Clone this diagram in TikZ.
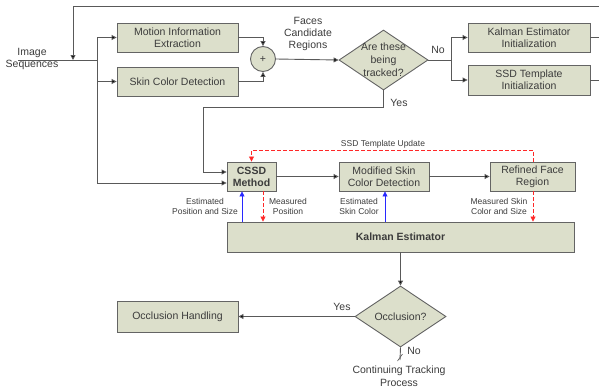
\documentclass[tikz,border=0pt]{standalone}
\usepackage{fontspec}
\setmainfont{Liberation Sans}
\usetikzlibrary{calc}
\usetikzlibrary{arrows.meta}
\usetikzlibrary{shapes.geometric}

\definecolor{boxfill}{RGB}{220,223,203}
\definecolor{boxline}{RGB}{100,100,100}
\definecolor{txtgray}{RGB}{60,60,60}
\definecolor{estblue}{RGB}{40,40,255}
\definecolor{measred}{RGB}{255,40,40}

\begin{document}
\begin{tikzpicture}[x=1pt,y=-1pt,
    font=\fontsize{10.5}{12}\selectfont, text=txtgray,
    block/.style={draw=boxline, fill=boxfill, line width=0.9pt, align=center,
        inner sep=0pt, minimum height=29pt},
    decision/.style={diamond, draw=boxline, fill=boxfill, line width=0.9pt,
        inner sep=0pt, align=center},
    small/.style={font=\fontsize{8.5}{9.5}\selectfont, align=center},
    flow/.style={draw=black!65, line width=0.9pt, -{Triangle[length=5pt,width=5pt,fill=black]}},
    est/.style={draw=estblue, line width=0.8pt, -{Triangle[length=5pt,width=5pt]}},
    meas/.style={draw=measred, line width=0.8pt, dashed, dash pattern=on 4pt off 2pt,
        -{Triangle[length=5pt,width=5pt]}}]

    % Fix the picture size
    \useasboundingbox (0,0) rectangle (599,388);

    % Input and the two detectors
    \node[align=center] (img) at (32,59) {Image\\Sequences};
    \coordinate (src) at (18,60);
    \coordinate (split) at (97,60);
    \coordinate (fb) at (73,60);
    \node[block, minimum width=121pt] (motion) at (177.5,37.5) {Motion Information\\Extraction};
    \node[block, minimum width=121pt] (skin) at (177.5,81.5) {Skin Color Detection};
    \node[circle, draw=boxline, fill=boxfill, line width=0.9pt, minimum size=25pt,
        inner sep=0pt] (plus) at (263,59) {+};
    \node[align=center] (faces) at (308,34) {Faces\\Candidate\\Regions};

    % Tracking decision and initialization
    \node[decision, minimum width=89pt, minimum height=60pt] (track) at (383.5,60) {};
    \node[align=center, font=\fontsize{10.5}{13}\selectfont] (tracktxt) at (track.center) {Are these\\being\\tracked?};
    \node (no1) at (438,50) {No};
    \coordinate (nosplit) at (451,60);
    \node[block, minimum width=122pt] (kinit) at (529,37.5) {Kalman Estimator\\Initialization};
    \node[block, minimum width=122pt, minimum height=30pt] (sinit) at (529,80) {SSD Template\\Initialization};
    \coordinate (kout) at (599,37.5);
    \coordinate (sout) at (599,80);
    \coordinate (topr) at (599,6);
    \coordinate (topl) at (73,6);

    % Tracking loop
    \node (yes1) at (399,103) {Yes};
    \node[block, minimum width=49pt, font=\fontsize{10.5}{12}\bfseries] (cssd) at (251.5,176.5) {CSSD\\Method};
    \node[block, minimum width=90pt] (modskin) at (384,176.5) {Modified Skin\\Color Detection};
    \node[block, minimum width=85pt] (refined) at (532.5,176.5) {Refined Face\\Region};
    \node[block, minimum width=347pt, minimum height=30pt, font=\fontsize{10.5}{12}\bfseries] (kalman) at (400.5,237) {Kalman Estimator};

    % Occlusion
    \node[decision, minimum width=91pt, minimum height=61pt] (occl) at (400.5,316.5) {Occlusion?};
    \node[block, minimum width=121pt, minimum height=31pt] (occh) at (177.5,316.5) {Occlusion Handling};
    \node (yes2) at (342,307) {Yes};
    \node (no2) at (414,351) {No};
    \coordinate (cont) at (400,360);
    \node[align=center, font=\fontsize{10.5}{13.5}\selectfont] (conttxt) at (399,376) {Continuing Tracking\\Process};

    % Draw the connectors
    \draw[black!65, line width=0.9pt] (src) -- (split);
    \draw[flow] (topr) -- (topl) -- (fb);
    \draw[flow] (split) |- (motion.west);
    \draw[flow] (split) |- (skin.west);
    \draw[flow] (split) |- (cssd.west |- 0,183);
    \draw[flow] (motion.east) -| (plus.north);
    \draw[flow] (skin.east) -| (plus.south);
    \draw[flow] (plus.east) -- (track.west);
    \draw[black!65, line width=0.9pt] (track.east) -- (nosplit);
    \draw[flow] (nosplit) |- (kinit.west);
    \draw[flow] (nosplit) |- (sinit.west);
    \draw[black!65, line width=0.9pt] (kinit.east) -- (kout);
    \draw[black!65, line width=0.9pt] (sinit.east) -- (sout);
    \draw[flow] (track.south) -- (383.5,107) -| (203,172) -- (cssd.west |- 0,172);
    \draw[flow] (cssd.east) -- (modskin.west);
    \draw[flow] (modskin.east) -- (refined.west);
    \draw[flow] (kalman.south -| occl.north) -- (occl.north);
    \draw[flow] (occl.west) -- (occh.east);
    \draw[black!65, line width=0.9pt] (occl.south) -- (cont);
    \draw[black!65, line width=0.6pt] ($(cont)+(-2.5,1)$) -- ($(cont)+(2.5,-6)$);

    % Estimates and measurements
    \draw[meas] (refined.north -| 533,0) -- (533,150) -| (cssd.north);
    \node[small] (ssdup) at (383,144) {SSD Template Update};
    \draw[est] (kalman.north -| 242,0) -- (cssd.south -| 242,0);
    \draw[meas] (cssd.south -| 263,0) -- (kalman.north -| 263,0);
    \draw[est] (kalman.north -| 385,0) -- (modskin.south -| 385,0);
    \draw[meas] (refined.south -| 533,0) -- (kalman.north -| 533,0);
    \node[small] (estpos) at (205,206.5) {Estimated\\Position and Size};
    \node[small] (measpos) at (288,206.5) {Measured\\Position};
    \node[small] (estskin) at (359,206.5) {Estimated\\Skin Color};
    \node[small] (measskin) at (499,206.5) {Measured Skin\\Color and Size};
\end{tikzpicture}
\end{document}
